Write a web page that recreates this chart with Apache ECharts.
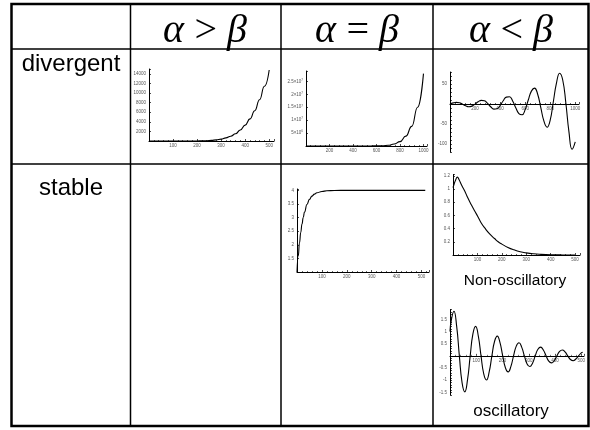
<!DOCTYPE html>
<html><head><meta charset="utf-8">
<script src="https://cdn.jsdelivr.net/npm/echarts@6/dist/echarts.min.js"></script>
<style>html,body{margin:0;padding:0;background:#fff}#c{width:590px;height:430px}</style>
</head><body><div id="c"></div>
<script>
// ---------- text ----------
const colHeaders = ['\u03b1\u2009>\u2009\u03b2', '\u03b1\u2009=\u2009\u03b2', '\u03b1\u2009<\u2009\u03b2'];
const rowHeaders = ['divergent', 'stable'];
const subLabels = ['Non-oscillatory', 'oscillatory'];

// ---------- chart 1: divergent, alpha > beta ----------
const c1X = [0,20,40,60,80,100,120,140,160,180,200,220,240,260,280,300,320,340,360,380,400,420,440,460,480,500];
const c1Y = [0.2,0.3,0.5,0.8,1.2,1.8,2.7,4,6,9,15,30,60,120,230,400,650,1000,1500,2300,3300,4600,6300,8600,11400,14800];
const c1XTicks = [100,200,300,400,500];
const c1YTicks = [2000,4000,6000,8000,10000,12000,14000];

// ---------- chart 2: divergent, alpha = beta ----------
const c2X = [0,50,100,150,200,250,300,350,400,450,500,550,600,650,700,750,800,850,900,950,1000];
const c2Y = [0,1,3,8,20,50,120,300,1000,3000,8000,20000,50000,120000,300000,750000,1700000,3800000,7600000,15000000,28000000];
const c2XTicks = [200,400,600,800,1000];
const c2YTicks = [5000000,10000000,15000000,20000000,25000000];
const c2YTickLabels = ['5\u00d710{s|6}','1\u00d710{s|7}','1.5\u00d710{s|7}','2\u00d710{s|7}','2.5\u00d710{s|7}'];

// ---------- chart 3: divergent, alpha < beta ----------
const c3X = [0,25,50,75,100,125,150,175,200,225,250,275,300,325,350,375,400,425,450,475,500,525,550,575,600,625,650,675,700,725,750,775,800,825,850,875,900,925,950,975,1000];
const c3Y = [0.5,2.8,4.0,3.1,-0.4,-4.6,-7.0,-5.3,-0.3,5.6,9.0,7.9,1.6,-6.9,-12.8,-12.0,-3.9,8.1,17.2,18.0,7.7,-9.4,-23.8,-27.0,-14.1,9.9,32.2,39.8,24.4,-9.1,-42.9,-58.0,-40.1,5.6,52,77,60,2.5,-70.4,-113.2,-94.8];
const c3XTicks = [200,400,600,800,1000];
const c3YTicks = [-100,-50,50];

// ---------- chart 4: stable, alpha = beta ----------
const c4X = [0,5,10,15,20,25,30,40,50,60,70,80,100,120,150,200,300,400,515];
const c4Y = [1,1.59,2.07,2.45,2.76,3.0,3.2,3.48,3.67,3.79,3.86,3.91,3.96,3.985,3.996,4,4,4,4];
const c4XTicks = [100,200,300,400,500];
const c4YTicks = [1.5,2,2.5,3,3.5,4];

// ---------- chart 5: stable, alpha < beta, non-oscillatory ----------
const c5X = [0,5,10,18,25,35,48,60,75,90,102,115,130,150,170,185,200,225,250,275,300,330,360,400,450,500];
const c5Y = [1.02,1.08,1.13,1.18,1.14,1.06,0.97,0.87,0.76,0.66,0.58,0.49,0.41,0.32,0.25,0.20,0.165,0.115,0.078,0.05,0.032,0.018,0.01,0.004,0.001,0];
const c5XTicks = [100,200,300,400,500];
const c5YTicks = [0.2,0.4,0.6,0.8,1,1.2];

// ---------- chart 6: stable, alpha < beta, oscillatory ----------
const c6X = [0,4.7,15,25.3,35.6,45.9,56.3,66.6,76.9,87.2,97.5,107.8,118.1,128.4,138.8,149.1,159.4,169.7,180,190.3,200.6,210.9,221.3,231.6,241.9,252.2,262.5,272.8,283.1,293.4,303.8,314.1,324.4,334.7,345,355.3,365.6,375.9,386.3,396.6,406.9,417.2,427.5,437.8,448.1,458.4,468.8,479.1,489.4,499.7,505];
const c6Y = [1.0,1.45,1.83,1.22,0,-1.10,-1.48,-0.99,0,0.90,1.21,0.81,0,-0.74,-0.99,-0.66,0,0.60,0.81,0.54,0,-0.49,-0.66,-0.44,0,0.40,0.54,0.36,0,-0.33,-0.44,-0.30,0,0.27,0.36,0.24,0,-0.22,-0.29,-0.20,0,0.18,0.24,0.16,0,-0.15,-0.20,-0.13,0,0.12,0.15];
const c6XTicks = [100,200,300,400,500];
const c6YTicks = [-1.5,-1,-0.5,0.5,1,1.5];

// ---------- build ----------
const chart = echarts.init(document.getElementById('c'), null, {renderer: 'canvas'});
const zip = (a, b) => a.map((v, i) => [v, b[i]]);
const has = (ticks, v) => ticks.findIndex(t => Math.abs(t - v) < 1e-6);

const panels = [
  {grid:{left:149, top:69, width:125, height:72},  x:[0,520,100,c1XTicks], y:[0,15000,2000,c1YTicks], X:c1X, Y:c1Y, mono:true},
  {grid:{left:306, top:71, width:121, height:75},  x:[0,1030,200,c2XTicks], y:[0,29000000,5000000,c2YTicks], X:c2X, Y:c2Y, mono:true, ylab:c2YTickLabels},
  {grid:{left:450, top:72, width:129, height:80},  x:[0,1030,200,c3XTicks], y:[-120,80,10,c3YTicks], X:c3X, Y:c3Y},
  {grid:{left:297, top:189, width:132, height:83}, x:[0,530,100,c4XTicks], y:[1,4.05,0.5,c4YTicks], X:c4X, Y:c4Y, mono:true},
  {grid:{left:453, top:174.5, width:127, height:80.5}, x:[0,520,100,c5XTicks], y:[0,1.22,0.2,c5YTicks], X:c5X, Y:c5Y},
  {grid:{left:450, top:309.6, width:134, height:85.2}, x:[0,510,100,c6XTicks], y:[-1.6,1.9,0.1,c6YTicks], X:c6X, Y:c6Y}
];

const tickFont = {fontSize: 4.5, color: '#555', fontFamily: 'Liberation Sans'};
const grids = [], xAxes = [], yAxes = [], series = [];
panels.forEach((p, i) => {
  grids.push(Object.assign({outerBoundsMode: 'none', containLabel: false}, p.grid));
  // the x axis sits where y = 0 when 0 lies inside the range (Mathematica style)
  const zeroOff = p.y[0] < 0 ? -p.grid.height * (0 - p.y[0]) / (p.y[1] - p.y[0]) : 0;
  xAxes.push({
    type: 'value', gridIndex: i, min: p.x[0], max: p.x[1], interval: p.x[2],
    position: 'bottom', offset: zeroOff,
    splitLine: {show: false},
    axisLine: {show: true, onZero: false, lineStyle: {color: '#000', width: 1}},
    axisTick: {show: true, inside: true, length: 2, lineStyle: {color: '#000', width: 0.7}},
    minorTick: {show: true, splitNumber: 5, length: 1, lineStyle: {color: '#000', width: 0.6}},
    axisLabel: Object.assign({show: true, margin: 2, showMinLabel: true, showMaxLabel: true,
      formatter: v => has(p.x[3], v) >= 0 ? String(v) : ''}, tickFont)
  });
  const yl = Object.assign({show: true, margin: 3,
      formatter: v => { const k = has(p.y[3], v); if (k < 0) return ''; return p.ylab ? p.ylab[k] : String(Math.round(v * 100) / 100); },
      rich: {s: {fontSize: 3, color: '#555', verticalAlign: 'top', padding: [0, 0, 3, 0]}}}, tickFont);
  const fine = p.y[2] === 10 || p.y[2] === 0.1;
  yAxes.push({
    type: 'value', gridIndex: i, min: p.y[0], max: p.y[1], interval: p.y[2],
    splitLine: {show: false},
    axisLine: {show: true, onZero: false, lineStyle: {color: '#000', width: 1}},
    axisTick: {show: true, inside: true, length: 2, lineStyle: {color: '#000', width: 0.7}},
    minorTick: {show: !fine, splitNumber: 5, length: 1, lineStyle: {color: '#000', width: 0.6}},
    axisLabel: yl
  });
  series.push({
    type: 'line', xAxisIndex: i, yAxisIndex: i, data: zip(p.X, p.Y),
    showSymbol: false, smooth: true, smoothMonotone: p.mono ? 'x' : undefined,
    lineStyle: {color: '#000', width: 1.1}, clip: false, silent: true
  });
});

// ---------- table frame & texts ----------
const L = (x1, y1, x2, y2, w) => ({type: 'line', shape: {x1, y1, x2, y2}, style: {stroke: '#000', lineWidth: w}, silent: true});
const T = (text, x, y, font) => ({type: 'text', x, y, style: {text, font, fill: '#000', align: 'center', verticalAlign: 'middle'}, silent: true});
const serif = 'italic 40px "Liberation Serif"';
const sans = (s) => s + 'px "Liberation Sans"';
const graphic = [
  {type: 'rect', shape: {x: 11.5, y: 4, width: 577, height: 422}, style: {fill: 'none', stroke: '#000', lineWidth: 2.5}, silent: true},
  L(11, 49, 589, 49, 1.5),
  L(11, 164, 589, 164, 1.5),
  L(130.5, 4, 130.5, 426, 1.5),
  L(281, 4, 281, 426, 1.5),
  L(433, 4, 433, 426, 1.5),
  T(colHeaders[0], 205, 31, serif),
  T(colHeaders[1], 357, 31, serif),
  T(colHeaders[2], 511, 31, serif),
  T(rowHeaders[0], 71, 64, sans(24)),
  T(rowHeaders[1], 71, 188, sans(24)),
  T(subLabels[0], 515, 281, sans(15.5)),
  T(subLabels[1], 511, 411, sans(17))
];

chart.setOption({
  animation: false,
  backgroundColor: '#fff',
  grid: grids, xAxis: xAxes, yAxis: yAxes, series: series,
  graphic: graphic
});
</script></body></html>
